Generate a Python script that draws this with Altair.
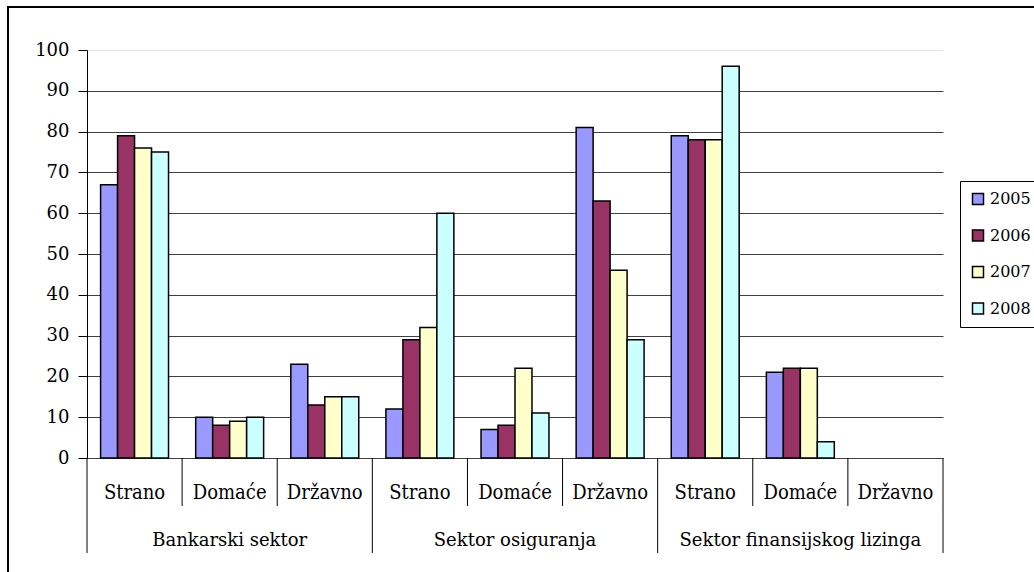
import altair as alt
import pandas as pd

# Categories
sectors = ["Bankarski sektor", "Sektor osiguranja", "Sektor finansijskog lizinga"]
ownership = ["Strano", "Domaće", "Državno"]
years = ["2005", "2006", "2007", "2008"]
year_colors = ["#9999FF", "#993366", "#FFFFCC", "#CCFFFF"]

# Share (%) per year, in sector/ownership order; None = no bar drawn
v2005 = [67, 10, 23, 12, 7, 81, 79, 21, None]
v2006 = [79, 8, 13, 29, 8, 63, 78, 22, None]
v2007 = [76, 9, 15, 32, 22, 46, 78, 22, None]
v2008 = [75, 10, 15, 60, 11, 29, 96, 4, None]
y_ticks = list(range(0, 101, 10))

FONT = "DejaVu Serif"
FONT_COND = "DejaVu Serif Condensed"

cats = [(s, o, f"{s}|{o}") for s in sectors for o in ownership]
keys = [c[2] for c in cats]

rows = []
for year, vals in zip(years, [v2005, v2006, v2007, v2008]):
    for (s, o, k), v in zip(cats, vals):
        if v is not None:
            rows.append({"key": k, "year": year, "value": v})
bars_df = pd.DataFrame(rows)
cat_df = pd.DataFrame([{"key": k, "own": o, "sector": s} for s, o, k in cats])

x_scale = alt.Scale(domain=keys, paddingInner=0, paddingOuter=0)

bars = alt.Chart(bars_df).mark_bar(stroke="black", strokeWidth=1.5).encode(
    x=alt.X("key:N", scale=x_scale, sort=keys,
            axis=alt.Axis(labels=False, ticks=False, title=None, grid=False,
                          domainColor="black", domainWidth=1)),
    xOffset=alt.XOffset("year:N", scale=alt.Scale(domain=years, paddingInner=0, paddingOuter=0.8)),
    y=alt.Y("value:Q", scale=alt.Scale(domain=[0, 100], nice=False),
            axis=alt.Axis(values=y_ticks, title=None, labelFont=FONT, labelFontSize=18,
                          labelColor="black", tickColor="black", tickSize=9, tickWidth=1,
                          labelPadding=9, domainColor="black", domainWidth=1,
                          gridColor={"condition": {"test": "datum.value == 100", "value": "#e4e4e4"},
                                     "value": "#404040"},
                          gridWidth=1)),
    color=alt.Color("year:N", scale=alt.Scale(domain=years, range=year_colors),
                    legend=alt.Legend(orient="none", legendX=873, legendY=131, title=None,
                                      symbolType="square", symbolSize=121,
                                      symbolStrokeColor="black", symbolStrokeWidth=1.5,
                                      labelFont=FONT, labelFontSize=16, labelColor="black",
                                      labelOffset=4, strokeColor="black", fillColor="white",
                                      padding=10, rowPadding=18.5)),
)

# separators under the category axis
short_sep = alt.Chart(cat_df[cat_df["own"] != "Strano"]).mark_rule(color="black", strokeWidth=1).encode(
    x=alt.X("key:N", bandPosition=0, axis=None),
    y=alt.value(408), y2=alt.value(456),
)
long_sep = alt.Chart(cat_df[cat_df["own"] == "Strano"]).mark_rule(color="black", strokeWidth=1).encode(
    x=alt.X("key:N", bandPosition=0, axis=None),
    y=alt.value(408), y2=alt.value(503),
)
end_sep = alt.Chart(cat_df.tail(1)).mark_rule(color="black", strokeWidth=1).encode(
    x=alt.X("key:N", bandPosition=1, axis=None),
    y=alt.value(408), y2=alt.value(503),
)

cat_labels = alt.Chart(cat_df).mark_text(font=FONT_COND, fontSize=20, color="black",
                                         baseline="alphabetic", align="center").encode(
    x=alt.X("key:N", axis=None),
    y=alt.value(449),
    text="own:N",
)
sector_labels = alt.Chart(cat_df[cat_df["own"] == "Domaće"]).mark_text(
    font=FONT, fontSize=18, color="black", baseline="alphabetic", align="center").encode(
    x=alt.X("key:N", axis=None),
    y=alt.value(496),
    text="sector:N",
)

frame = alt.Chart(alt.Data(values=[{}])).mark_rect(fill="white", fillOpacity=0, stroke="black",
                                                    strokeWidth=2).encode(
    x=alt.value(-79), x2=alt.value(965), y=alt.value(-43), y2=alt.value(545),
)

chart = alt.layer(frame, bars, short_sep, long_sep, end_sep, cat_labels, sector_labels).properties(
    width=856, height=408,
    autosize=alt.AutoSizeParams(type="none"),
    padding={"left": 87, "top": 50, "right": 91, "bottom": 114},
    background="white",
).configure_view(stroke=None)

chart.save("out.html", embed_options={"renderer": "svg", "actions": False})
